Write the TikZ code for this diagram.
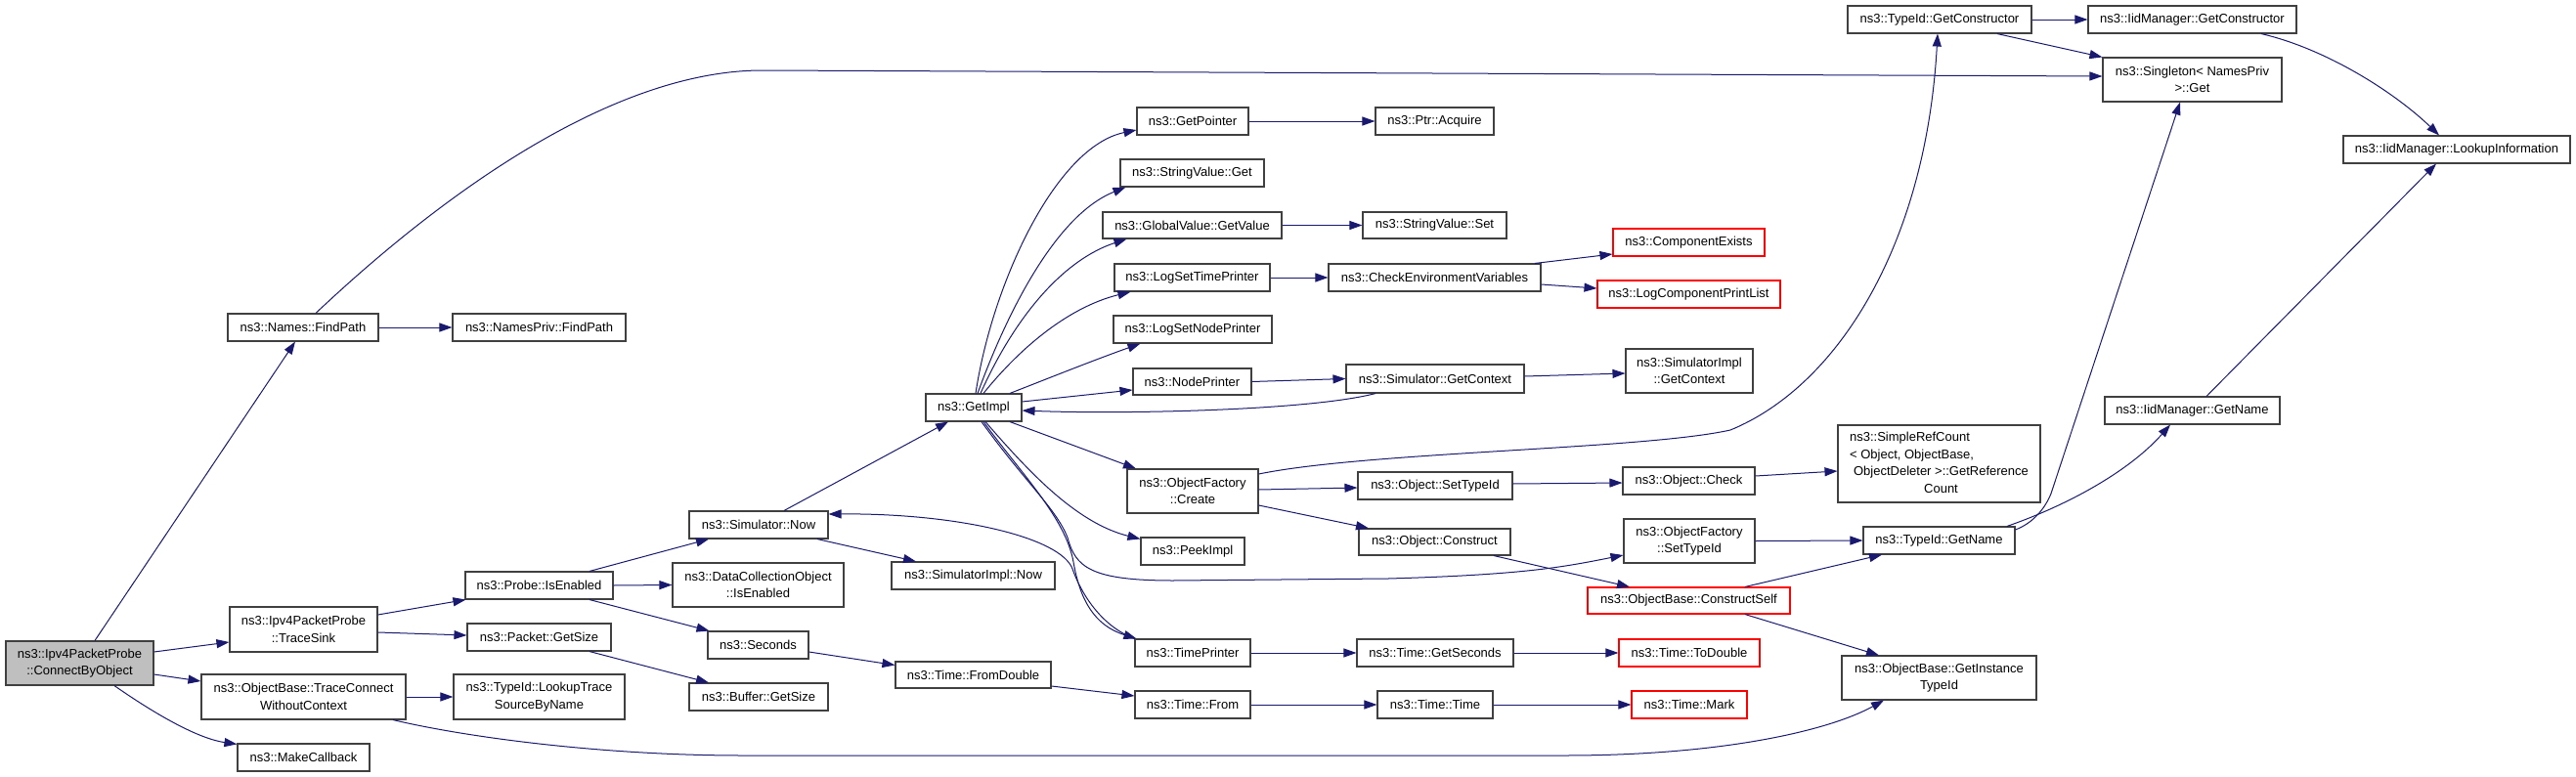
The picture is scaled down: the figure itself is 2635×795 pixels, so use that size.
\documentclass[tikz,border=0pt]{standalone}
\usepackage{fontspec}
\setmainfont{Liberation Sans}
\usetikzlibrary{arrows.meta}
\definecolor{edgeblue}{HTML}{191970}
\definecolor{boxgray}{HTML}{404040}
\definecolor{fillgray}{HTML}{BFBFBF}
\definecolor{boxred}{HTML}{FF0000}
\newcommand\fsz{\fontsize{13}{17.5}\selectfont}
\begin{document}
\begin{tikzpicture}[x=1pt,y=-1pt,
  box/.style={draw=boxgray, line width=1.1pt, inner sep=0pt, align=center, font=\fsz, fill=white},
  redbox/.style={box, draw=boxred},
  edge/.style={draw=edgeblue, line width=1pt, -{Triangle[length=13pt,width=9pt]}}]
\useasboundingbox (0,0) rectangle (2635,795);
% column 0
\node[box, fill=fillgray, minimum width=151pt, minimum height=45pt] (n0) at (81.5,678.5) {ns3::Ipv4PacketProbe\\::ConnectByObject};
% column 1
\node[box, minimum width=154pt, minimum height=28pt] (fp) at (310,335) {ns3::Names::FindPath};
\node[box, minimum width=151pt, minimum height=46pt] (ts) at (310.5,644) {ns3::Ipv4PacketProbe\\::TraceSink};
\node[box, minimum width=209pt, minimum height=46pt] (tc) at (310.5,713) {ns3::ObjectBase::TraceConnect\\WithoutContext};
\node[box, minimum width=135pt, minimum height=28pt] (mc) at (310.5,775) {ns3::MakeCallback};
% column 2
\node[box, minimum width=177pt, minimum height=28pt] (npfp) at (551.5,335) {ns3::NamesPriv::FindPath};
\node[box, minimum width=151pt, minimum height=28pt] (pie) at (551.5,599) {ns3::Probe::IsEnabled};
\node[box, minimum width=147pt, minimum height=28pt] (pgs) at (551.5,652) {ns3::Packet::GetSize};
\node[box, minimum width=175pt, minimum height=46pt] (ltr) at (551.5,713) {ns3::TypeId::LookupTrace\\SourceByName};
% column 3
\node[box, minimum width=142pt, minimum height=28pt] (sn) at (776,537) {ns3::Simulator::Now};
\node[box, minimum width=175pt, minimum height=45pt] (dco) at (775.5,598.5) {ns3::DataCollectionObject\\::IsEnabled};
\node[box, minimum width=103pt, minimum height=28pt] (sec) at (775.5,660) {ns3::Seconds};
\node[box, minimum width=142pt, minimum height=28pt] (bgs) at (776,713) {ns3::Buffer::GetSize};
% column 4
\node[box, minimum width=98pt, minimum height=28pt] (gi) at (996,417) {ns3::GetImpl};
\node[box, minimum width=167pt, minimum height=28pt] (sin) at (995.5,589) {ns3::SimulatorImpl::Now};
\node[box, minimum width=159pt, minimum height=27pt] (tfd) at (995.5,690.5) {ns3::Time::FromDouble};
% column 5
\node[box, minimum width=114pt, minimum height=28pt] (gp) at (1220,124) {ns3::GetPointer};
\node[box, minimum width=147pt, minimum height=28pt] (svg) at (1219.5,177) {ns3::StringValue::Get};
\node[box, minimum width=183pt, minimum height=27pt] (gvv) at (1219.5,230.5) {ns3::GlobalValue::GetValue};
\node[box, minimum width=159pt, minimum height=28pt] (lstp) at (1219.5,284) {ns3::LogSetTimePrinter};
\node[box, minimum width=162pt, minimum height=28pt] (lsnp) at (1220,337) {ns3::LogSetNodePrinter};
\node[box, minimum width=121pt, minimum height=27pt] (np) at (1219.5,390.5) {ns3::NodePrinter};
\node[box, minimum width=134pt, minimum height=45pt] (ofc) at (1220,502.5) {ns3::ObjectFactory\\::Create};
\node[box, minimum width=106pt, minimum height=28pt] (pk) at (1220,564) {ns3::PeekImpl};
\node[box, minimum width=118pt, minimum height=28pt] (tp) at (1220,668) {ns3::TimePrinter};
\node[box, minimum width=118pt, minimum height=28pt] (tf) at (1220,721) {ns3::Time::From};
% column 6
\node[box, minimum width=121pt, minimum height=28pt] (pa) at (1467.5,124) {ns3::Ptr::Acquire};
\node[box, minimum width=147pt, minimum height=27pt] (svs) at (1467.5,230.5) {ns3::StringValue::Set};
\node[box, minimum width=217pt, minimum height=28pt] (cev) at (1467.5,284) {ns3::CheckEnvironmentVariables};
\node[box, minimum width=182pt, minimum height=29pt] (sgc) at (1468,387.5) {ns3::Simulator::GetContext};
\node[box, minimum width=158pt, minimum height=28pt] (ost) at (1468,497) {ns3::Object::SetTypeId};
\node[box, minimum width=155pt, minimum height=27pt] (oc) at (1467.5,554.5) {ns3::Object::Construct};
\node[box, minimum width=160pt, minimum height=28pt] (tgs) at (1468,668) {ns3::Time::GetSeconds};
\node[box, minimum width=118pt, minimum height=28pt] (tt) at (1468,721) {ns3::Time::Time};
% column 7
\node[redbox, minimum width=155pt, minimum height=28pt] (ce) at (1727.5,248) {ns3::ComponentExists};
\node[redbox, minimum width=187pt, minimum height=28pt] (lcpl) at (1727.5,301) {ns3::LogComponentPrintList};
\node[box, minimum width=130pt, minimum height=45pt] (sigc) at (1728,379.5) {ns3::SimulatorImpl\\::GetContext};
\node[box, minimum width=135pt, minimum height=28pt] (ock) at (1727.5,492) {ns3::Object::Check};
\node[box, minimum width=134pt, minimum height=45pt] (ofst) at (1728,553.5) {ns3::ObjectFactory\\::SetTypeId};
\node[redbox, minimum width=207pt, minimum height=27pt] (obcs) at (1727.5,614.5) {ns3::ObjectBase::ConstructSelf};
\node[redbox, minimum width=144pt, minimum height=28pt] (ttd) at (1728,668) {ns3::Time::ToDouble};
\node[redbox, minimum width=118pt, minimum height=28pt] (tm) at (1728,721) {ns3::Time::Mark};
% column 8
\node[box, minimum width=188pt, minimum height=28pt] (tgc) at (1984,20) {ns3::TypeId::GetConstructor};
\node[box, minimum width=207pt, minimum height=79pt] (src) at (1983.5,474.5) {\begin{tabular}{@{}l@{}}ns3::SimpleRefCount\\ {<} Object, ObjectBase,\\ \hspace*{4pt}ObjectDeleter {>}::GetReference\\ \multicolumn{1}{@{}c@{}}{\hspace*{4pt}Count}\end{tabular}};
\node[box, minimum width=155pt, minimum height=28pt] (tgn) at (1983.5,553) {ns3::TypeId::GetName};
\node[box, minimum width=199pt, minimum height=45pt] (git) at (1983.5,693.5) {ns3::ObjectBase::GetInstance\\TypeId};
% column 9
\node[box, minimum width=213pt, minimum height=28pt] (igc) at (2242.5,20) {ns3::IidManager::GetConstructor};
\node[box, minimum width=183pt, minimum height=45pt] (sng) at (2242.5,81.5) {ns3::Singleton{<} NamesPriv\\{>}::Get};
\node[box, minimum width=179pt, minimum height=28pt] (ign) at (2242.5,420) {ns3::IidManager::GetName};
% column 10
\node[box, minimum width=232pt, minimum height=28pt] (ili) at (2513,153) {ns3::IidManager::LookupInformation};

% edges from ConnectByObject
\draw[edge] ([xshift=15.5pt]n0.north) -- ([xshift=-8pt]fp.south);
\draw[edge] ([yshift=11.5pt]n0.east) -- ([yshift=-13pt]ts.west);
\draw[edge] ([yshift=-11.5pt]n0.east) -- ([yshift=16pt]tc.west);
\draw[edge] ([xshift=35.5pt]n0.south) .. controls (165,735) and (205,756) .. ([yshift=-1pt]mc.north west);
% Names::FindPath
\draw[edge] (fp.east) -- (npfp.west);
\draw[edge] ([xshift=13pt]fp.north) .. controls (440,210) and (620,72) .. (780,72) -- ([yshift=3.5pt]sng.west);
% TraceSink
\draw[edge] ([yshift=15pt]ts.east) -- ([xshift=1pt]pie.south west);
\draw[edge] ([yshift=-3pt]ts.east) -- ([yshift=2pt]pgs.west);
% TraceConnect
\draw[edge] (tc.east) -- (ltr.west);
\draw[edge] ([xshift=91.5pt]tc.south) .. controls (480,755) and (620,773) .. (760,773) -- (1600,773) .. controls (1760,773) and (1870,748) .. ([xshift=-56.5pt]git.south);
% Probe::IsEnabled
\draw[edge] ([xshift=51.5pt]pie.north) -- ([xshift=-51pt]sn.south);
\draw[edge] (pie.east) -- (dco.west);
\draw[edge] ([xshift=51.5pt]pie.south) -- ([xshift=-50pt]sec.north);
\draw[edge] ([xshift=51.5pt]pgs.south) -- ([xshift=-51pt]bgs.north);
% Simulator::Now
\draw[edge] ([xshift=26pt]sn.north) -- ([xshift=-26pt]gi.south);
\draw[edge] ([xshift=60pt]sn.south) -- ([xshift=-58.5pt]sin.north);
\draw[edge] ([yshift=-7pt]sec.east) -- ([yshift=10pt]tfd.west);
\draw[edge] ([yshift=-11.5pt]tfd.east) -- ([yshift=9pt]tf.west);
% GetImpl fan
\draw[edge] ([xshift=2pt]gi.north) .. controls (1015,290) and (1080,150) .. ([yshift=-9pt]gp.west);
\draw[edge] ([xshift=4pt]gi.north) .. controls (1030,320) and (1080,220) .. ([xshift=6pt]svg.south west);
\draw[edge] ([xshift=7pt]gi.north) .. controls (1040,320) and (1090,265) .. ([xshift=25pt]gvv.south west);
\draw[edge] ([xshift=10pt]gi.north) .. controls (1040,360) and (1090,315) .. ([xshift=17pt]lstp.south west);
\draw[edge] ([xshift=37pt]gi.north) .. controls (1070,388) and (1120,368) .. ([xshift=28pt]lsnp.south west);
\draw[edge] ([yshift=6pt]gi.east) -- ([yshift=-8.5pt]np.west);
\draw[edge] ([xshift=-61pt]sgc.south) .. controls (1340,420) and (1150,424) .. ([yshift=-3pt]gi.east);
\draw[edge] ([xshift=37pt]gi.south) -- ([xshift=-58pt]ofc.north);
\draw[edge] ([xshift=12pt]gi.south) .. controls (1050,480) and (1100,535) .. ([yshift=-2pt]pk.north west);
\draw[edge] ([xshift=10pt]gi.south) .. controls (1045,485) and (1090,530) .. (1098,575) .. controls (1105,615) and (1120,640) .. ([xshift=2pt]tp.north west);
\draw[edge] (tp.north west) .. controls (1125,640) and (1105,605) .. (1097,582) .. controls (1085,550) and (980,525) .. ([yshift=11pt]sn.east);
\draw[edge] ([xshift=8pt]gi.south) .. controls (1050,495) and (1080,520) .. (1092,550) .. controls (1100,580) and (1115,594) .. (1200,594) -- (1420,592) .. controls (1560,588) and (1600,580) .. ([yshift=-14.5pt]ofst.west);
% column 5 -> 6
\draw[edge] (gp.east) -- (pa.west);
\draw[edge] (gvv.east) -- (svs.west);
\draw[edge] (lstp.east) -- (cev.west);
\draw[edge] ([xshift=102.5pt]cev.north) -- ([yshift=-12pt]ce.west);
\draw[edge] ([yshift=-7pt]cev.east) -- ([yshift=6pt]lcpl.west);
\draw[edge] (np.east) -- (sgc.west);
\draw[edge] ([yshift=2.5pt]sgc.east) -- ([yshift=-2.5pt]sigc.west);
% ObjectFactory::Create
\draw[edge] ([yshift=17.5pt]ofc.east) .. controls (1400,462) and (1680,460) .. (1770,440) .. controls (1880,395) and (1970,250) .. ([xshift=-2pt]tgc.south);
\draw[edge] ([yshift=1.5pt]ofc.east) -- ([yshift=-2pt]ost.west);
\draw[edge] ([yshift=-14.5pt]ofc.east) -- ([xshift=-67.5pt]oc.north);
\draw[edge] ([yshift=2pt]ost.east) -- ([yshift=-2pt]ock.west);
\draw[edge] ([yshift=5pt]ock.east) -- ([yshift=-7.5pt]src.west);
\draw[edge] ([xshift=60.5pt]oc.south) -- ([xshift=-60.5pt]obcs.north);
\draw[edge] (ofst.east) -- (tgn.west);
\draw[edge] ([xshift=57.5pt]obcs.north) -- ([xshift=-58.5pt]tgn.south);
\draw[edge] ([xshift=57.5pt]obcs.south) -- ([xshift=-61.5pt]git.north);
% TypeId::GetName
\draw[edge] ([xshift=69.5pt]tgn.north) .. controls (2120,515) and (2180,480) .. ([xshift=-22.5pt]ign.south);
\draw[edge] ([yshift=11pt]tgn.east) .. controls (2080,535) and (2092,520) .. (2098,505) -- ([xshift=-12.5pt]sng.south);
\draw[edge] ([xshift=14.5pt]ign.north) -- ([xshift=-21pt]ili.south);
% GetConstructor
\draw[edge] (tgc.east) -- (igc.west);
\draw[edge] ([xshift=59pt]tgc.south) -- (sng.north west);
\draw[edge] ([xshift=70.5pt]igc.south) .. controls (2380,50) and (2450,95) .. ([xshift=-18pt]ili.north);
% Time chain
\draw[edge] (tp.east) -- (tgs.west);
\draw[edge] (tgs.east) -- (ttd.west);
\draw[edge] (tf.east) -- (tt.west);
\draw[edge] (tt.east) -- (tm.west);
\end{tikzpicture}
\end{document}
